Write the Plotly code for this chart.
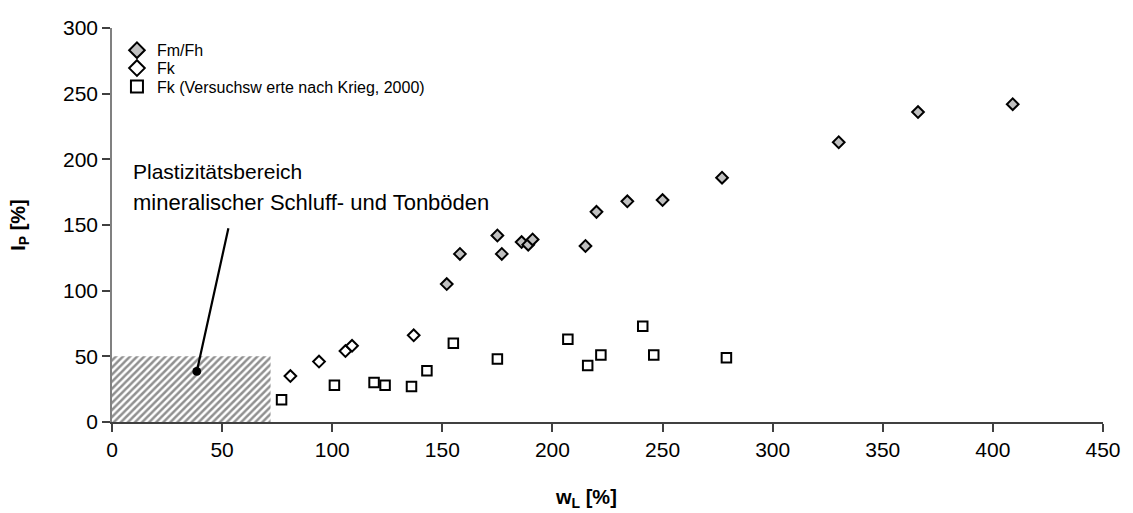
import plotly.graph_objects as go

# Fm/Fh (grey diamonds)
fm_wl = [152, 158, 175, 177, 186, 189, 191, 215, 220, 234, 250, 277, 330, 366, 409]
fm_ip = [105, 128, 142, 128, 137, 135, 139, 134, 160, 168, 169, 186, 213, 236, 242]

# Fk (white diamonds)
fk_wl = [81, 94, 106, 109, 137]
fk_ip = [35, 46, 54, 58, 66]

# Fk (Versuchswerte nach Krieg, 2000) (white squares)
kr_wl = [77, 101, 119, 124, 136, 143, 155, 175, 207, 216, 222, 241, 246, 279]
kr_ip = [17, 28, 30, 28, 27, 39, 60, 48, 63, 43, 51, 73, 51, 49]

# Plasticity region of mineral silt and clay soils
region_wl = [0, 72, 72, 0, 0]
region_ip = [0, 0, 50, 50, 0]

x_ticks = [0, 50, 100, 150, 200, 250, 300, 350, 400, 450]
y_ticks = [0, 50, 100, 150, 200, 250, 300]

FONT = "Liberation Sans, Arial, sans-serif"

fig = go.Figure()

fig.add_trace(go.Scatter(
    x=region_wl, y=region_ip, mode="lines", fill="toself",
    line=dict(width=0, color="rgba(0,0,0,0)"),
    fillcolor="white",
    fillpattern=dict(shape="/", fgcolor="#222222", bgcolor="white", size=5, solidity=0.5),
    showlegend=False, hoverinfo="skip"))

fig.add_trace(go.Scatter(
    x=fm_wl, y=fm_ip, mode="markers", name="Fm/Fh", legend="legend",
    marker=dict(symbol="diamond", size=9, color="#c0c0c0", line=dict(color="black", width=2))))
fig.add_trace(go.Scatter(
    x=fk_wl, y=fk_ip, mode="markers", name="Fk", legend="legend2",
    marker=dict(symbol="diamond", size=9, color="white", line=dict(color="black", width=2))))
fig.add_trace(go.Scatter(
    x=kr_wl, y=kr_ip, mode="markers", name="Fk (Versuchsw erte nach Krieg, 2000)", legend="legend3",
    marker=dict(symbol="square", size=9.5, color="white", line=dict(color="black", width=2))))

fig.add_annotation(x=8.7, y=190.6, xref="x", yref="y", text="Plastizitätsbereich",
                   showarrow=False, xanchor="left", yanchor="middle",
                   font=dict(family=FONT, size=21, color="black"))
fig.add_annotation(x=8.7, y=167, xref="x", yref="y", text="mineralischer Schluff- und Tonböden",
                   showarrow=False, xanchor="left", yanchor="middle",
                   font=dict(family=FONT, size=22, color="black"))
fig.add_annotation(x=38.5, y=38.5, xref="x", yref="y", ax=53, ay=148.6, axref="x", ayref="y",
                   text="", showarrow=True, arrowhead=6, arrowsize=1, arrowwidth=2.2,
                   arrowcolor="black", standoff=0, startstandoff=0)

fig.add_annotation(x=0.478, y=-0.23, xref="paper", yref="paper",
                   text="<b>w<sub>L</sub> [%]</b>", showarrow=False,
                   font=dict(family=FONT, size=20, color="black"))

LEG = dict(x=0.005, xanchor="left", yanchor="middle", bgcolor="rgba(0,0,0,0)",
           font=dict(family=FONT, size=16, color="black"), itemsizing="constant",
           borderwidth=0)

fig.update_layout(
    width=1133, height=513,
    margin=dict(l=112, r=27, t=28, b=91),
    paper_bgcolor="white", plot_bgcolor="white",
    font=dict(family=FONT, size=21, color="black"),
    showlegend=True,
    legend=dict(LEG, y=0.9434),
    legend2=dict(LEG, y=0.898),
    legend3=dict(LEG, y=0.851),
)
fig.update_xaxes(range=[0, 450], tickvals=x_ticks, ticktext=[str(v) for v in x_ticks],
                 showgrid=False, zeroline=False, showline=True, linecolor="#404040", linewidth=1.5,
                 ticks="outside", ticklen=8, tickcolor="#404040", tickwidth=1.5,
                 tickfont=dict(family=FONT, size=21, color="black"))
fig.update_yaxes(range=[0, 300], tickvals=y_ticks, ticktext=[str(v) for v in y_ticks],
                 showgrid=False, zeroline=False, showline=True, linecolor="#808080", linewidth=1.5,
                 ticks="outside", ticklen=8, tickcolor="#404040", tickwidth=1.5,
                 tickfont=dict(family=FONT, size=21, color="black"),
                 title=dict(text="<b>I<sub>P</sub> [%]</b>", standoff=32,
                            font=dict(family=FONT, size=20, color="black")))

fig.write_html("out.html")
